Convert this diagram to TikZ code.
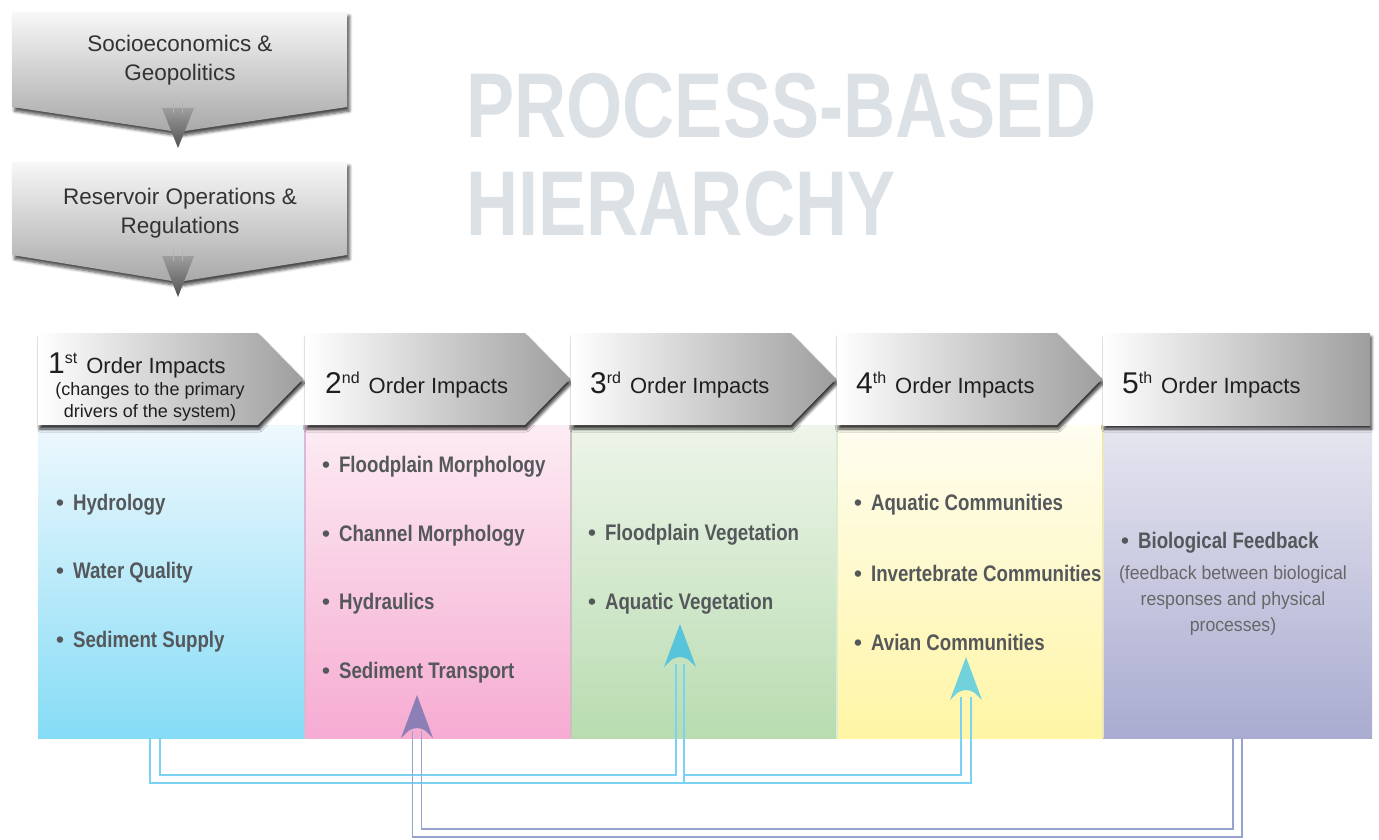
\documentclass[tikz,border=0pt]{standalone}
\usepackage{fontspec}
\setmainfont{Liberation Sans}
\newfontfamily\condfont[FakeStretch=0.83]{Liberation Sans}
\newfontfamily\titlefont[FakeStretch=0.785]{Liberation Sans}
\newfontfamily\subfont[FakeStretch=0.93]{Liberation Sans}
\usetikzlibrary{calc,shadows.blur}
\definecolor{titlegrey}{HTML}{DCE1E6}
\definecolor{itemtxt}{HTML}{55585B}
\definecolor{boxtxt}{HTML}{333333}
\definecolor{subtxt}{HTML}{676767}
\definecolor{cyanln}{HTML}{7AD3F2}
\definecolor{cyanhdA}{HTML}{58C4DC}
\definecolor{cyanhdB}{HTML}{72D2DC}
\definecolor{purpln}{HTML}{98A2CF}
\definecolor{purphd}{HTML}{8B7FB6}
\definecolor{c1t}{HTML}{EEF8FD}\definecolor{c1b}{HTML}{86DCF6}
\definecolor{c2t}{HTML}{FCECF3}\definecolor{c2b}{HTML}{F6ABD2}
\definecolor{c3t}{HTML}{EEF5EA}\definecolor{c3b}{HTML}{B8DCB0}
\definecolor{c4t}{HTML}{FEFDF0}\definecolor{c4b}{HTML}{FFF5A5}
\definecolor{c5t}{HTML}{E6E6F0}\definecolor{c5b}{HTML}{A9ABD0}
\definecolor{s12}{HTML}{D9B9D6}
\definecolor{s23}{HTML}{CBBFC0}
\definecolor{s34}{HTML}{DDEBD0}
\definecolor{s45}{HTML}{ECE6B8}
\newcommand\bul{{\bfseries\textbullet}}
\newcommand\itm[1]{\bul\hspace{9pt}{\condfont\bfseries #1}}
\newcommand\ordhead[2]{{\fontsize{30}{30}\selectfont #1}\raisebox{10pt}{\fontsize{16}{16}\selectfont #2}\hspace{9pt}Order Impacts}
\newcommand\headat[2]{\fill[#1] (#2) -- ($(#2)+(-16,43)$) .. controls ($(#2)+(-7,34)$) .. ($(#2)+(0,33)$) .. controls ($(#2)+(7,34)$) .. ($(#2)+(16,43)$) -- cycle;}
\begin{document}
\begin{tikzpicture}[x=1pt,y=-1pt,
  colbox/.style={draw=none,inner sep=0,minimum height=313pt,anchor=north west},
  hdr/.style={left color=white,right color=black!38,
    blur shadow={shadow xshift=1.5pt,shadow yshift=-4pt,shadow blur radius=3pt,shadow blur steps=6,shadow opacity=80}},
  topbox/.style={top color=black!3,bottom color=black!34,
    blur shadow={shadow xshift=2.5pt,shadow yshift=-4pt,shadow blur radius=3pt,shadow blur steps=6,shadow opacity=70}},
  boxlabel/.style={align=center,text=boxtxt,font=\fontsize{22.5}{29}\selectfont,inner sep=0},
  item/.style={anchor=west,inner sep=0,text=itemtxt,font=\fontsize{22.5}{26}\selectfont},
  hdtext/.style={anchor=base west,inner sep=0,text=black!88,font=\fontsize{22}{26}\selectfont},
  hdsub/.style={anchor=base,inner sep=0,text=black!88,font=\fontsize{18}{22}\selectfont},
  cline/.style={draw=cyanln,line width=1.7pt},
  pline/.style={draw=purpln,line width=1.7pt},
  sepline/.style={line width=1.2pt}
]
\useasboundingbox (0,0) rectangle (1379,840);

% column bodies
\node[colbox,minimum width=267pt,top color=c1t,bottom color=c1b] (col1) at (38,425) {};
\node[colbox,minimum width=266pt,top color=c2t,bottom color=c2b] (col2) at (305,425) {};
\node[colbox,minimum width=266pt,top color=c3t,bottom color=c3b] (col3) at (571,425) {};
\node[colbox,minimum width=266pt,top color=c4t,bottom color=c4b] (col4) at (837,425) {};
\node[colbox,minimum width=269pt,top color=c5t,bottom color=c5b] (col5) at (1103,425) {};
\draw[sepline,draw=s12] (col2.north west) -- (col2.south west);
\draw[sepline,draw=s23] (col3.north west) -- (col3.south west);
\draw[sepline,draw=s34] (col4.north west) -- (col4.south west);
\draw[sepline,draw=s45] (col5.north west) -- (col5.south west);

% headers
\path[hdr] (38,333) -- (258,333) -- (303,379) -- (258,425) -- (38,425) -- cycle;
\path[hdr] (305,333) -- (525,333) -- (570,379) -- (525,425) -- (305,425) -- cycle;
\path[hdr] (571,333) -- (791,333) -- (836,379) -- (791,425) -- (571,425) -- cycle;
\path[hdr] (837,333) -- (1057,333) -- (1102,379) -- (1057,425) -- (837,425) -- cycle;
\path[hdr] (1103,333) rectangle (1370,425);

\node[hdtext] (h1) at (48,373) {\ordhead{1}{st}};
\node[hdsub] (h1a) at (150,395) {(changes to the primary};
\node[hdsub] (h1b) at (150,417) {drivers of the system)};
\node[hdtext] (h2) at (325,393) {\ordhead{2}{nd}};
\node[hdtext] (h3) at (590,393) {\ordhead{3}{rd}};
\node[hdtext] (h4) at (856,393) {\ordhead{4}{th}};
\node[hdtext] (h5) at (1122,393) {\ordhead{5}{th}};

% top boxes
\path[topbox] (12,12) -- (347,12) -- (347,107) -- (178,132) -- (12,107) -- cycle;
\shade[top color=black!38,bottom color=black!68] (162,108) -- (194,108) -- (178,148) -- cycle;
\draw[black!30,line width=0.8pt] (173,102) -- (173,113) (182,102) -- (182,113);
\path[topbox] (12,162) -- (347,162) -- (347,255) -- (178,282) -- (12,255) -- cycle;
\shade[top color=black!38,bottom color=black!68] (162,256) -- (194,256) -- (178,297) -- cycle;
\draw[black!30,line width=0.8pt] (173,250) -- (173,261) (182,250) -- (182,261);
\node[boxlabel] (b1) at (180,60) {Socioeconomics \&\\Geopolitics};
\node[boxlabel] (b2) at (180,213) {Reservoir Operations \&\\Regulations};

% title
\node[anchor=base west,inner sep=0,text=titlegrey,font=\titlefont\bfseries\fontsize{92}{96}\selectfont] (t1) at (466,138) {PROCESS-BASED};
\node[anchor=base west,inner sep=0,text=titlegrey,font=\titlefont\bfseries\fontsize{92}{96}\selectfont] (t2) at (466,235) {HIERARCHY};

% items
\node[item] (i11) at (56,505) {\itm{Hydrology}};
\node[item] (i12) at (56,573) {\itm{Water Quality}};
\node[item] (i13) at (56,642) {\itm{Sediment Supply}};
\node[item] (i21) at (322,467) {\itm{Floodplain Morphology}};
\node[item] (i22) at (322,536) {\itm{Channel Morphology}};
\node[item] (i23) at (322,604) {\itm{Hydraulics}};
\node[item] (i24) at (322,673) {\itm{Sediment Transport}};
\node[item] (i31) at (588,535) {\itm{Floodplain Vegetation}};
\node[item] (i32) at (588,604) {\itm{Aquatic Vegetation}};
\node[item] (i41) at (854,505) {\itm{Aquatic Communities}};
\node[item] (i42) at (854,573) {\itm{Invertebrate Communities}};
\node[item] (i43) at (854,642) {\itm{Avian Communities}};
\node[item] (i51) at (1121,543) {\itm{Biological Feedback}};
\node[align=center,inner sep=0,text=subtxt,font=\subfont\fontsize{19}{26}\selectfont] (i52) at (1233,601) {(feedback between biological\\responses and physical\\processes)};

% connectors
\coordinate (s1) at (155,738);
\coordinate (s5) at (1237.5,738);
\coordinate (a3) at (680,624);
\coordinate (a4) at (966,657);
\coordinate (a2) at (417,695);
\draw[cline] ($(s1)+(5,0)$) |- ($(a3)+(-4,151)$) -- ($(a3)+(-4,40)$);
\draw[cline] ($(s1)+(-5,0)$) |- ($(a4)+(5,126)$) -- ($(a4)+(5,40)$);
\draw[cline] ($(a3)+(4,40)$) -- ($(a3)+(4,159)$);
\draw[cline] ($(a3)+(4,151)$) -| ($(a4)+(-5,40)$);
\draw[pline] ($(s5)+(-4.5,0)$) |- ($(a2)+(4.5,134)$) -- ($(a2)+(4.5,36)$);
\draw[pline] ($(s5)+(4.5,0)$) |- ($(a2)+(-4.5,142)$) -- ($(a2)+(-4.5,36)$);
\headat{cyanhdA}{a3}
\headat{cyanhdB}{a4}
\headat{purphd}{a2}
\end{tikzpicture}
\end{document}
